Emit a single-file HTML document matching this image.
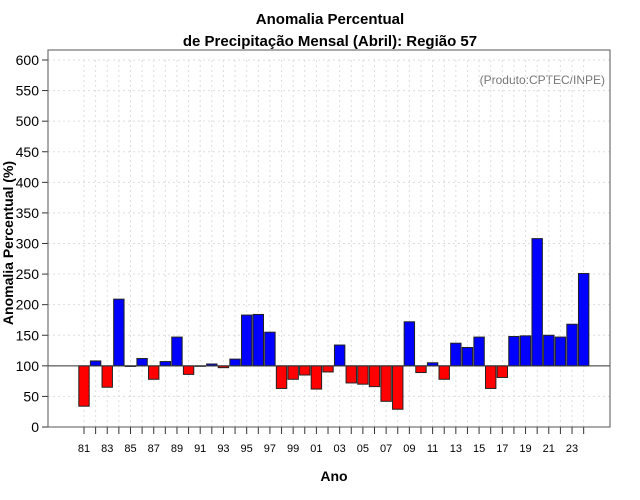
<!DOCTYPE html>
<html><head><meta charset="utf-8"><style>
body{margin:0;background:#fff;}
svg{font-family:"Liberation Sans",sans-serif;display:block}
</style></head><body>
<svg id="chart" width="640" height="500" viewBox="0 0 640 500">
<text x="330" y="24" text-anchor="middle" font-size="15" font-weight="bold">Anomalia Percentual</text>
<text x="330" y="46" text-anchor="middle" font-size="15" font-weight="bold">de Precipitação Mensal (Abril): Região 57</text>
<text x="605" y="84" text-anchor="end" font-size="12" fill="#777">(Produto:CPTEC/INPE)</text>
<text transform="translate(13,243) rotate(-90)" text-anchor="middle" font-size="14" font-weight="bold">Anomalia Percentual (%)</text>
<text x="334" y="481" text-anchor="middle" font-size="14" font-weight="bold">Ano</text>
<g id="grid"></g><g id="bars"></g><g id="axes"></g>
</svg>
<script>
const years=[81,82,83,84,85,86,87,88,89,90,91,92,93,94,95,96,97,98,99,0,1,2,3,4,5,6,7,8,9,10,11,12,13,14,15,16,17,18,19,20,21,22,23,24];
const values=[34,108,65,209,99,112,78,107,147,86,100,103,97,111,183,184,155,63,78,85,62,90,134,72,70,66,42,29,172,89,105,78,137,130,147,63,81,148,149,308,150,147,168,251];
const yTicks=[0,50,100,150,200,250,300,350,400,450,500,550,600];
const NS="http://www.w3.org/2000/svg";
const L=48,R=610,T=60,B=427;
const y=v=>B-(v/600)*(B-T);
const x=i=>84+i*11.62;
function mk(tag,a,p){const e=document.createElementNS(NS,tag);for(const k in a)e.setAttribute(k,a[k]);p.appendChild(e);return e;}
const grid=document.getElementById('grid'),bars=document.getElementById('bars'),axes=document.getElementById('axes');
yTicks.forEach(t=>{
 const g=mk('line',{x1:L,x2:R,y1:y(t),y2:y(t),stroke:'#ddd','stroke-dasharray':'2,3'},grid);
 
 
 const tk=mk('line',{x1:L-6,x2:L,y1:y(t),y2:y(t),stroke:'#333'},axes);
 
 
 const lb=mk('text',{x:L-9,y:y(t)+5,'text-anchor':'end','font-size':14},axes);
 lb.textContent=t;
 
 
});
years.forEach((yr,i)=>{
 const g=mk('line',{x1:x(i),x2:x(i),y1:T,y2:B,stroke:'#ddd','stroke-dasharray':'2,3'},grid);
 
 
 const tk=mk('line',{x1:x(i),x2:x(i),y1:B,y2:B+7,stroke:'#333'},axes);
 
 
 if(i%2===0){
  const lb=mk('text',{x:x(i),y:452,'text-anchor':'middle','font-size':11},axes);
  lb.textContent=String(yr).padStart(2,'0');
  
  
 }
 const v=values[i],top=Math.min(y(v),y(100)),h=Math.abs(y(v)-y(100));
 const b=mk('rect',{x:x(i)-5.2,y:top,width:10.4,height:Math.max(h,0.5),fill:v>=100?'#0000ff':'#ff0000',stroke:'#222','stroke-width':1},bars);
 
 
});
const bl=mk('line',{x1:L,x2:R,y1:y(100),y2:y(100),stroke:'#333'},axes);


const fr=mk('rect',{x:L,y:T-10,width:R-L,height:B-T+10,fill:'none',stroke:'#555'},axes);


</script>
</body></html>
